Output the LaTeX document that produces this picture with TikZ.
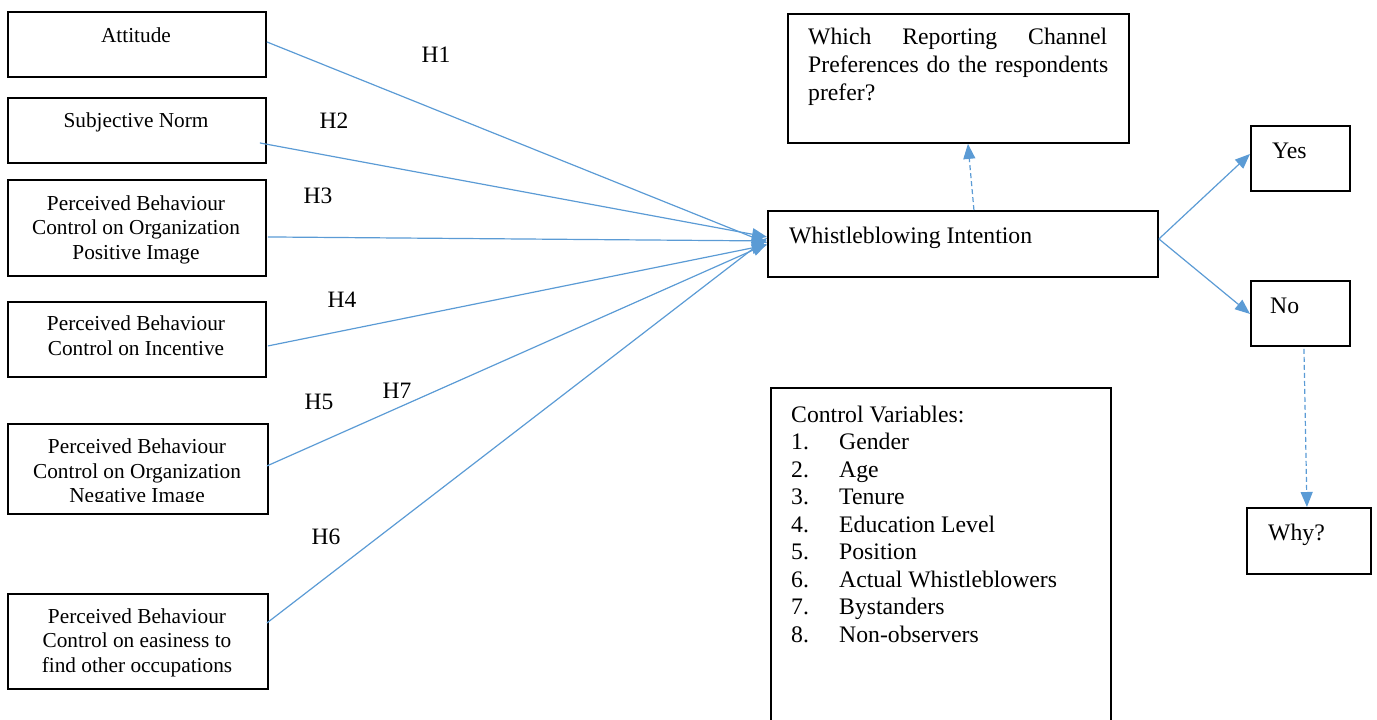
\documentclass[tikz,border=0pt]{standalone}
\usepackage{fontspec}
\setmainfont{Liberation Serif}
\usetikzlibrary{arrows.meta}
\definecolor{linkblue}{HTML}{5B9BD5}
\begin{document}
\begin{tikzpicture}[x=1pt,y=-1pt,
  box/.style={draw,line width=1.9pt,inner sep=0pt,anchor=north west},
  smalltext/.style={font=\fontsize{21.3}{24.5}\selectfont,align=center,anchor=base,inner sep=0pt},
  bigtext/.style={font=\fontsize{23.7}{27.5}\selectfont,anchor=base west,inner sep=0pt},
  hyp/.style={font=\fontsize{23.5}{27}\selectfont,inner sep=0pt},
  link/.style={draw=linkblue,line width=1.2pt,-{Triangle[length=15pt,width=12pt]}},
  dashlink/.style={link,dash pattern=on 5pt off 3pt}]
\useasboundingbox (0,0) rectangle (1377,720);
\clip (0,0) rectangle (1377,720);

% predictor boxes
\node[box,minimum width=258,minimum height=65] (att) at (7,11) {};
\node[box,minimum width=258,minimum height=65] (sn) at (7,97) {};
\node[box,minimum width=258,minimum height=96] (pos) at (7,179) {};
\node[box,minimum width=258,minimum height=75] (inc) at (7,301) {};
\node[box,minimum width=260,minimum height=90] (neg) at (7,423) {};
\node[box,minimum width=260,minimum height=95] (occ) at (7,593) {};

% box texts (multi-line nodes sit on their last baseline)
\node[smalltext] (atttxt) at (136,42) {Attitude};
\node[smalltext] (sntxt) at (136,127) {Subjective Norm};
\node[smalltext] (postxt) at (136,259) {Perceived Behaviour\\Control on Organization\\Positive Image};
\node[smalltext] (inctxt) at (136,355) {Perceived Behaviour\\Control on Incentive};
\begin{scope}
  \clip (7,423) rectangle (267,501);
  \node[smalltext] (negtxt) at (137,502.5) {Perceived Behaviour\\Control on Organization\\Negative Image};
\end{scope}
\node[smalltext] (occtxt) at (137,672) {Perceived Behaviour\\Control on easiness to\\find other occupations};

% outcome side
\node[box,minimum width=341,minimum height=129] (which) at (787,13) {};
\node[box,minimum width=390,minimum height=66] (wi) at (767,210) {};
\node[box,minimum width=99,minimum height=65] (yes) at (1250,125) {};
\node[box,minimum width=99,minimum height=65] (no) at (1250,280) {};
\node[box,minimum width=124,minimum height=66] (why) at (1246,507) {};
\node[box,minimum width=340,minimum height=360] (ctrl) at (770,387) {};

\node[bigtext,text width=299pt,align=left] (whichtxt) at (808,45)
  {Which\hfill Reporting\hfill Channel\\\mbox{Preferences do the respondents}\\prefer?};
\node[bigtext] (witxt) at (789,243) {Whistleblowing Intention};
\node[bigtext] (yestxt) at (1272,158) {Yes};
\node[bigtext] (notxt) at (1270,313) {No};
\node[bigtext] (whytxt) at (1268,540) {Why?};
\node[bigtext] (ctrltxt) at (791,422) {%
  \begin{tabular}[t]{@{}p{48pt}@{}l@{}}
  \multicolumn{2}{@{}l@{}}{Control Variables:}\\
  1. & Gender\\
  2. & Age\\
  3. & Tenure\\
  4. & Education Level\\
  5. & Position\\
  6. & Actual Whistleblowers\\
  7. & Bystanders\\
  8. & Non-observers
  \end{tabular}};

% hypothesis labels
\node[hyp] (h1) at (436,55) {H1};
\node[hyp] (h2) at (334,121) {H2};
\node[hyp] (h3) at (318,196) {H3};
\node[hyp] (h4) at (342,300) {H4};
\node[hyp] (h5) at (319,402) {H5};
\node[hyp] (h7) at (397,391) {H7};
\node[hyp] (h6) at (326,537) {H6};

% paths into the intention
\draw[link] ([shift={(0,-2.5)}]att.east) -- ([shift={(0,-1)}]wi.west);
\draw[link] ([shift={(-7,12.5)}]sn.east) -- ([shift={(0,-7)}]wi.west);
\draw[link] ([shift={(1,9)}]pos.east) -- ([shift={(0,-3)}]wi.west);
\draw[link] ([shift={(1,6.5)}]inc.east) -- ([shift={(0,1)}]wi.west);
\draw[link] ([shift={(-2,-3)}]neg.east) -- ([shift={(0,0)}]wi.west);
\draw[link] ([shift={(-2,-18.5)}]occ.east) -- ([shift={(0,-6)}]wi.west);

% outcomes
\draw[link] ([shift={(0,-5)}]wi.east) -- ([shift={(0,-4.5)}]yes.west);
\draw[link] ([shift={(0,-5)}]wi.east) -- ([shift={(0,0.5)}]no.west);
\draw[dashlink] ([shift={(11,0)}]wi.north) -- ([shift={(9.5,0)}]which.south);
\draw[dashlink] ([shift={(3.5,2)}]no.south) -- ([shift={(-2,0)}]why.north);
\end{tikzpicture}
\end{document}
